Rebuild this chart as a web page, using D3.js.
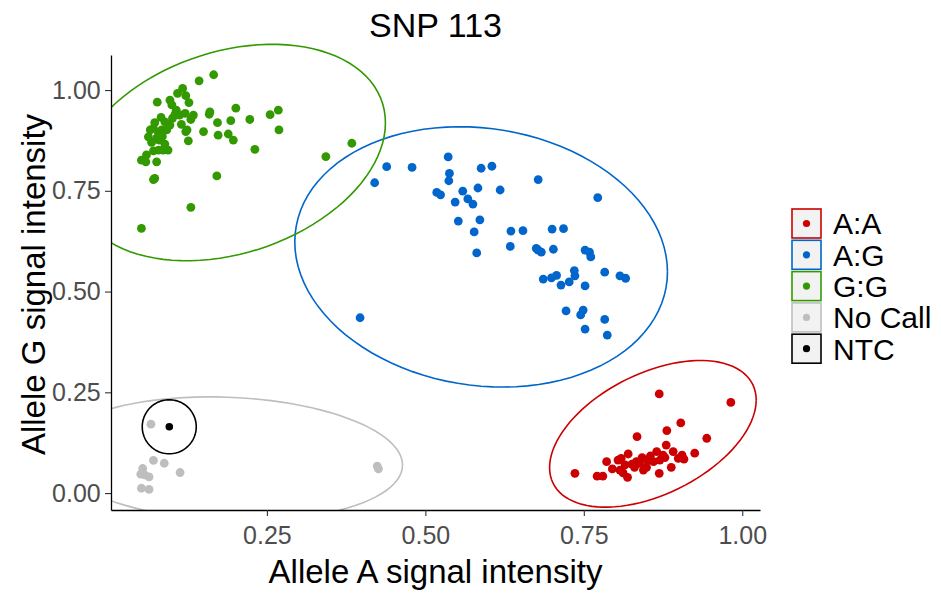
<!DOCTYPE html>
<html>
<head>
<meta charset="utf-8">
<script src="https://cdn.jsdelivr.net/npm/d3@7"></script>
<style>
  body { margin: 0; background: #fff; }
  text { font-family: "Liberation Sans", Arial, sans-serif; }
</style>
</head>
<body>
<svg id="chart"></svg>
<script>
const svg_width = 941;
const svg_height = 594;

// panel edges in pixels
var panel = { left: 111, right: 760, top: 55, bottom: 510 };

// ---- data (allele A, allele G) ----
var genotypes = ["A:A", "A:G", "G:G", "No Call", "NTC"];
var colors = ["#CC0000", "#0066CC", "#339900", "#BEBEBE", "#000000"];

var aa_points = [
  [0.869,0.246],[0.982,0.225],[0.903,0.174],[0.881,0.155],[0.834,0.140],[0.944,0.136],
  [0.925,0.099],[0.736,0.049],[0.771,0.042],[0.780,0.042],[0.786,0.078],[0.804,0.082],
  [0.807,0.057],[0.820,0.097],[0.819,0.039],[0.838,0.074],[0.850,0.082],[0.855,0.092],
  [0.865,0.103],[0.870,0.082],[0.869,0.049],[0.880,0.119],[0.891,0.103],[0.888,0.064],
  [0.905,0.094],[0.908,0.084],[0.875,0.094],[0.849,0.064],[0.830,0.064],[0.809,0.086],
  [0.844,0.057],[0.899,0.086],[0.833,0.078],[0.815,0.070],[0.826,0.072],[0.842,0.088],
  [0.860,0.078],[0.878,0.088],[0.795,0.060],[0.812,0.050]
];

var ag_points = [
  [0.536,0.834],[0.439,0.810],[0.479,0.808],[0.420,0.770],[0.538,0.793],[0.537,0.775],
  [0.588,0.806],[0.605,0.811],[0.678,0.778],[0.518,0.746],[0.524,0.740],[0.559,0.749],
  [0.583,0.757],[0.618,0.752],[0.547,0.722],[0.567,0.730],[0.575,0.717],[0.772,0.733],
  [0.552,0.675],[0.586,0.678],[0.577,0.648],[0.635,0.650],[0.654,0.651],[0.700,0.655],
  [0.718,0.656],[0.581,0.596],[0.634,0.612],[0.675,0.607],[0.678,0.603],[0.683,0.598],
  [0.702,0.605],[0.752,0.603],[0.759,0.598],[0.761,0.586],[0.783,0.548],[0.807,0.539],
  [0.816,0.533],[0.735,0.552],[0.736,0.539],[0.686,0.531],[0.699,0.534],[0.707,0.540],
  [0.714,0.516],[0.727,0.524],[0.752,0.514],[0.722,0.452],[0.749,0.454],[0.745,0.442],
  [0.783,0.431],[0.752,0.407],[0.787,0.392],[0.397,0.435]
];

var gg_points = [
  [0.166,1.038],[0.143,1.023],[0.077,0.970],[0.117,1.004],[0.109,0.992],[0.122,0.986],
  [0.127,0.969],[0.097,0.975],[0.100,0.963],[0.107,0.950],[0.105,0.940],[0.112,0.938],
  [0.121,0.942],[0.134,0.938],[0.130,0.927],[0.160,0.946],[0.159,0.940],[0.201,0.955],
  [0.172,0.919],[0.193,0.924],[0.223,0.927],[0.255,0.939],[0.268,0.950],[0.269,0.901],
  [0.083,0.932],[0.073,0.919],[0.089,0.921],[0.097,0.913],[0.066,0.901],[0.071,0.905],
  [0.063,0.884],[0.079,0.893],[0.084,0.901],[0.092,0.901],[0.124,0.901],[0.122,0.897],
  [0.150,0.897],[0.173,0.888],[0.189,0.891],[0.197,0.876],[0.126,0.874],[0.076,0.880],
  [0.080,0.876],[0.089,0.866],[0.094,0.851],[0.086,0.851],[0.079,0.851],[0.071,0.849],
  [0.060,0.839],[0.052,0.826],[0.059,0.822],[0.076,0.822],[0.231,0.853],[0.343,0.835],
  [0.384,0.868],[0.073,0.781],[0.071,0.778],[0.171,0.787],[0.130,0.709],[0.052,0.657],
  [0.101,0.930],[0.115,0.915],[0.068,0.870],[0.085,0.885]
];

var nocall_points = [
  [0.067,0.171],[0.071,0.081],[0.088,0.074],[0.113,0.051],[0.054,0.061],[0.051,0.047],
  [0.057,0.045],[0.064,0.040],[0.052,0.012],[0.064,0.009],[0.424,0.067],[0.426,0.060]
];

var ntc_points = [[0.096,0.1645]];

// ellipse per genotype: centre x, centre y, x radius, y radius, correlation
var ellipse_cx = [0.859, 0.588, 0.191, 0.1877, 0.0959];
var ellipse_cy = [0.147, 0.586, 0.845, 0.0849, 0.1645];
var ellipse_rx = [0.163, 0.294, 0.246, 0.2763, 0.0426];
var ellipse_ry = [0.182, 0.323, 0.2685, 0.1538, 0.067];
var ellipse_r  = [0.46, -0.115, 0.275, -0.10, 0];

var x_ticks = [0.25, 0.50, 0.75, 1.00];
var y_ticks = [0.00, 0.25, 0.50, 0.75, 1.00];

var groups = [aa_points, ag_points, gg_points, nocall_points, ntc_points];

var svg = d3.select("svg#chart")
    .attr("width", svg_width)
    .attr("height", svg_height);

var x = d3.scaleLinear()
    .domain([0.004, 1.028])
    .range([panel.left, panel.right]);

var y = d3.scaleLinear()
    .domain([-0.042, 1.087])
    .range([panel.bottom, panel.top]);

svg.append("clipPath")
    .attr("id", "clip")
  .append("rect")
    .attr("x", panel.left)
    .attr("y", 0)
    .attr("width", panel.right - panel.left)
    .attr("height", panel.bottom);

// points
groups.forEach(function (pts, gi) {
  svg.append("g")
    .selectAll("circle")
    .data(pts)
    .enter()
    .append("circle")
      .attr("cx", d => x(d[0]))
      .attr("cy", d => y(d[1]))
      .attr("r", gi === 4 ? 3.8 : 4.4)
      .attr("fill", colors[gi]);
});

// ellipses
function ellipse_path(i) {
  var s = Math.sqrt(1 - ellipse_r[i] * ellipse_r[i]);
  var pts = d3.range(0, 101).map(function (k) {
    var t = 2 * Math.PI * k / 100;
    return [
      ellipse_cx[i] + ellipse_rx[i] * Math.cos(t),
      ellipse_cy[i] + ellipse_ry[i] * (ellipse_r[i] * Math.cos(t) + s * Math.sin(t))
    ];
  });
  return d3.line().x(d => x(d[0])).y(d => y(d[1]))(pts);
}

var eg = svg.append("g").attr("clip-path", "url(#clip)");
genotypes.forEach(function (g, i) {
  eg.append("path")
    .attr("d", ellipse_path(i))
    .attr("fill", "none")
    .attr("stroke", colors[i])
    .attr("stroke-width", 1.6);
});

// axes (tickSize first, it also sets the outer size)
var xAxis = d3.axisBottom(x).tickValues(x_ticks).tickFormat(d3.format(".2f")).tickSize(6).tickSizeOuter(0);
var yAxis = d3.axisLeft(y).tickValues(y_ticks).tickFormat(d3.format(".2f")).tickSize(6).tickSizeOuter(0);

var gx = svg.append("g")
    .attr("transform", "translate(0," + panel.bottom + ")")
    .call(xAxis);
var gy = svg.append("g")
    .attr("transform", "translate(" + panel.left + ",0)")
    .call(yAxis);

[gx, gy].forEach(function (g) {
  g.select(".domain").attr("stroke", "#000").attr("stroke-width", 1.3);
  g.selectAll(".tick line").attr("stroke", "#333").attr("stroke-width", 1.1);
  g.selectAll(".tick text")
    .attr("fill", "#4D4D4D")
    .style("font-size", "25px")
    .style("font-family", "Liberation Sans, Arial, sans-serif");
});
gx.selectAll(".tick text").attr("dy", "1.0em");
gy.selectAll(".tick text").attr("dx", "-0.05em");

// titles
svg.append("text")
    .attr("x", (panel.left + panel.right) / 2)
    .attr("y", 37)
    .attr("text-anchor", "middle")
    .style("font-size", "34px")
    .text("SNP 113");

svg.append("text")
    .attr("x", (panel.left + panel.right) / 2)
    .attr("y", 583)
    .attr("text-anchor", "middle")
    .style("font-size", "33px")
    .text("Allele A signal intensity");

svg.append("text")
    .attr("transform", "translate(45," + ((panel.top + panel.bottom) / 2 + 2) + ") rotate(-90)")
    .attr("text-anchor", "middle")
    .style("font-size", "33px")
    .text("Allele G signal intensity");

// legend
var legend = svg.append("g").attr("transform", "translate(792,209)");
genotypes.forEach(function (g, i) {
  var row = legend.append("g").attr("transform", "translate(0," + (i * 31.3) + ")");
  row.append("rect")
    .attr("x", 0).attr("y", 0)
    .attr("width", 29).attr("height", 29)
    .attr("fill", "#F2F2F2")
    .attr("stroke", colors[i])
    .attr("stroke-width", 1.6);
  row.append("circle")
    .attr("cx", 14.5).attr("cy", 14.5)
    .attr("r", 3.6)
    .attr("fill", colors[i]);
  row.append("text")
    .attr("x", 41)
    .attr("y", 14.5)
    .attr("dy", "0.36em")
    .style("font-size", "30px")
    .text(g);
});
</script>
</body>
</html>
